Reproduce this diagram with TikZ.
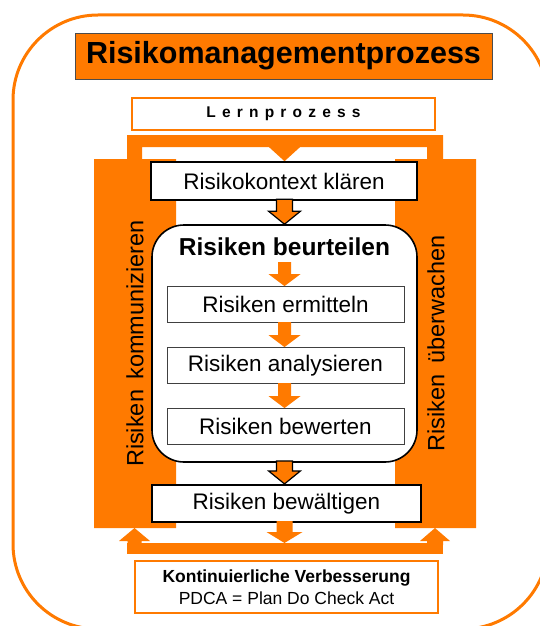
\documentclass[tikz,border=0pt]{standalone}
\usepackage{fontspec}
\setmainfont{Liberation Sans}
\usetikzlibrary{positioning}

\definecolor{rmorange}{RGB}{255,122,0}

% block arrow: style, tip, shaft half width, head half width, head length, shaft length
\newcommand{\blkarr}[6]{%
  \path[#1] (#2) -- ++({-1*(#4)},{-1*(#5)}) -- ++({#4-#3},0) -- ++(0,{-1*(#6)})
    -- ++({2*#3},0) -- ++(0,{#6}) -- ++({#4-#3},0) -- cycle;}

\begin{document}
\begin{tikzpicture}[x=1pt, y=-1pt,
  titlebox/.style={draw=black!70, fill=rmorange, line width=0.8pt, inner sep=0pt,
            minimum width=417pt, minimum height=46pt, font=\bfseries\fontsize{30.5}{36}\selectfont},
  framebox/.style={draw=rmorange, fill=white, line width=2pt, inner sep=0pt},
  box/.style={draw=black!75, fill=white, line width=0.8pt, inner sep=0pt,
            minimum width=237pt, minimum height=36pt, font=\fontsize{22.5}{27}\selectfont},
  mainbox/.style={box, draw=black, line width=1.6pt, minimum width=266pt, minimum height=38pt},
  sidetext/.style={rotate=90, inner sep=0pt, font=\fontsize{23.5}{28}\selectfont},
  solidarr/.style={fill=rmorange},
  hollowarr/.style={fill=rmorange, draw=black, line width=1.2pt}
]
  \useasboundingbox (0,0) rectangle (540,626);
  \clip (0,0) rectangle (540,626);
  \draw[rmorange, line width=3pt, rounded corners=85pt] (13,15) rectangle (548,629);

  \node[titlebox] (title) at (283.5,56) {Risikomanagementprozess};
  \node[framebox, minimum width=303pt, minimum height=32pt,
        font=\bfseries\fontsize{15.5}{18}\selectfont] (lern) at (283.5,114)
        {\addfontfeature{LetterSpace=40}Lernprozess};

  % orange frame round the process
  \fill[rmorange] (94,528) -- (94,159) -- (127,159) -- (127,135) -- (443,135) -- (443,159)
    -- (476,159) -- (476,528) -- (395,528) -- (395,159) -- (427,159) -- (427,147)
    -- (142,147) -- (142,159) -- (176,159) -- (176,528) -- cycle;
  \fill[rmorange] (127,543) rectangle (443,554);

  \node[sidetext] (komm) at (135,343.5) {Risiken\hspace{4pt} kommunizieren};
  \node[sidetext] (ueberw) at (436,343.5) {Risiken\hspace{5pt} überwachen};

  \node[mainbox] (kontext) at (284,181) {Risikokontext klären};
  \node[draw=black, fill=white, line width=1.6pt, rounded corners=32pt, inner sep=0pt,
        minimum width=265pt, minimum height=237pt] (beurteilen) at (284.5,343.5) {};
  \node[font=\bfseries\fontsize{24.5}{29}\selectfont, inner sep=0pt] (beurteilenlabel)
        at (284.5,247) {Risiken beurteilen};
  \node[box] (ermitteln) at (285.5,304.5) {Risiken ermitteln};
  \node[box] (analysieren) at (285.5,365.5) {Risiken analysieren};
  \node[box] (bewerten) at (285.5,426.5) {Risiken bewerten};
  \node[mainbox, line width=2.2pt, minimum width=269pt, minimum height=37pt]
        (bewaeltigen) at (286.5,503.5) {Risiken bewältigen};

  \node[framebox, minimum width=303pt, minimum height=52pt, align=center,
        font=\fontsize{17.5}{22}\selectfont] (verbesserung) at (286.5,587)
        {\textbf{Kontinuierliche Verbesserung}\\PDCA = Plan Do Check Act};

  \coordinate (axis) at (284.5,0);
  \coordinate (kommfoot) at (134.5,528);
  \coordinate (ueberwfoot) at (435,528);
  \coordinate (bartop) at (284.5,543);

  \fill[rmorange] (axis |- kontext.north) -- ++(-16.5,-15) -- ++(33,0) -- cycle;
  \blkarr{hollowarr}{axis |- beurteilen.north}{8}{16}{13}{12}
  \blkarr{solidarr}{axis |- ermitteln.north}{6.5}{16}{12}{12}
  \blkarr{solidarr}{axis |- analysieren.north}{6.5}{16}{12}{13}
  \blkarr{solidarr}{axis |- bewerten.north}{6.5}{16}{12}{13}
  \blkarr{hollowarr}{axis |- bewaeltigen.north}{8}{16}{13}{10}
  \blkarr{solidarr}{bartop}{8}{18}{11}{11}
  \blkarr{solidarr}{kommfoot}{7}{15.5}{-13}{-4}
  \blkarr{solidarr}{ueberwfoot}{8}{15}{-13}{-4}
\end{tikzpicture}
\end{document}
